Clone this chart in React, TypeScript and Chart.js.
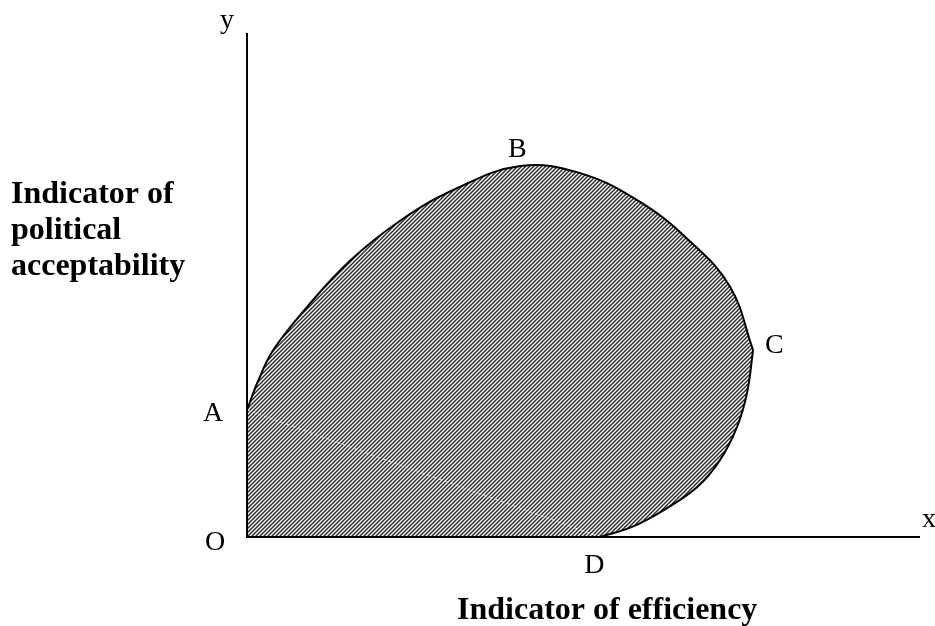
import { useEffect, useRef } from 'react';
import { Chart, registerables } from 'chart.js';

Chart.register(...registerables);

// Upper boundary A -> B -> C (units: 0..100 on each axis)
const upperX = [0, 1.6, 3.9, 8.9, 15.3, 22.7, 30.9, 40.6, 49.5, 58.4, 65.8, 71.8, 75.2];
const upperY = [25.2, 30.8, 37.1, 45.6, 54.8, 62.7, 69.0, 73.6, 72.2, 66.5, 58.7, 49.6, 37.1];

// Lower boundary C -> D
const lowerX = [75.2, 74.3, 72.8, 70.3, 66.9, 62.0, 57.2, 52.5];
const lowerY = [37.1, 28.6, 21.8, 15.3, 9.9, 5.4, 2.0, 0];

// Dashed chord A -> D
const chordX = [0, 52.5];
const chordY = [25.2, 0];

// Named points
const pointNames = ['O', 'A', 'B', 'C', 'D', 'x', 'y'];
const pointX = [0, 0, 40.6, 75.2, 52.5, 100, 0];
const pointY = [0, 25.2, 73.6, 37.1, 0, 0, 100];

const yTitleLines = ['Indicator of', 'political', 'acceptability'];
const xTitle = 'Indicator of efficiency';

function makePattern(): CanvasPattern | string {
  const c = document.createElement('canvas');
  c.width = 4;
  c.height = 4;
  const g = c.getContext('2d');
  if (!g) return '#777';
  g.fillStyle = '#ffffff';
  g.fillRect(0, 0, 4, 4);
  g.strokeStyle = '#2a2a2a';
  g.lineWidth = 1.5;
  g.beginPath();
  g.moveTo(-1, 5);
  g.lineTo(5, -1);
  g.moveTo(-1, 1);
  g.lineTo(1, -1);
  g.moveTo(3, 5);
  g.lineTo(5, 3);
  g.stroke();
  const p = g.createPattern(c, 'repeat');
  return p || '#777';
}

const labelOffsets: Record<string, [number, number, CanvasTextAlign]> = {
  O: [-42, 13, 'left'],
  A: [-44, 11, 'left'],
  B: [-3, -9, 'center'],
  C: [12, 3, 'left'],
  D: [-16, 36, 'left'],
  x: [2, -10, 'left'],
  y: [-27, -5, 'left'],
};

let hatch: CanvasPattern | string = '#777';

const regionFill = {
  id: 'regionFill',
  beforeDatasetsDraw(chart: any) {
    const { ctx, scales, chartArea } = chart;
    const upper = chart.getDatasetMeta(1).dataset;
    const lower = chart.getDatasetMeta(2).dataset;
    if (!upper || !lower) return;
    upper.updateControlPoints(chartArea, 'x');
    lower.updateControlPoints(chartArea, 'x');
    ctx.save();
    ctx.beginPath();
    upper.path(ctx);
    for (const seg of lower.segments) {
      lower.pathSegment(ctx, seg, { move: false });
    }
    ctx.lineTo(scales.x.getPixelForValue(0), scales.y.getPixelForValue(0));
    ctx.closePath();
    ctx.fillStyle = hatch;
    ctx.fill();
    ctx.restore();
  },
};

const annotate = {
  id: 'annotate',
  afterDatasetsDraw(chart: any) {
    const { ctx, scales } = chart;
    const xs = scales.x;
    const ys = scales.y;
    ctx.save();
    // axes
    ctx.strokeStyle = '#000';
    ctx.lineWidth = 2;
    ctx.beginPath();
    ctx.moveTo(xs.getPixelForValue(0), ys.getPixelForValue(100));
    ctx.lineTo(xs.getPixelForValue(0), ys.getPixelForValue(0));
    ctx.lineTo(xs.getPixelForValue(100), ys.getPixelForValue(0));
    ctx.stroke();
    // point labels
    ctx.fillStyle = '#000';
    ctx.textBaseline = 'alphabetic';
    ctx.font = '28px "Liberation Serif", "Times New Roman", serif';
    pointNames.forEach((n, i) => {
      const [dx, dy, align] = labelOffsets[n];
      ctx.textAlign = align;
      ctx.fillText(n, xs.getPixelForValue(pointX[i]) + dx, ys.getPixelForValue(pointY[i]) + dy);
    });
    // titles
    ctx.font = 'bold 32px "Liberation Serif", "Times New Roman", serif';
    ctx.textAlign = 'left';
    const base = [203, 239, 275];
    yTitleLines.forEach((t, i) => ctx.fillText(t, 11, base[i]));
    ctx.fillText(xTitle, 457, 619);
    ctx.restore();
  },
};

const curveStyle = {
  borderColor: '#000',
  borderWidth: 2,
  fill: false,
  tension: 0.4,
  cubicInterpolationMode: 'default' as const,
  pointRadius: 0,
};

export default function App() {
  const ref = useRef<HTMLCanvasElement | null>(null);
  useEffect(() => {
    if (!ref.current) return;
    hatch = makePattern();
    const chart = new Chart(ref.current, {
      type: 'line',
      data: {
        datasets: [
          {
            data: chordX.map((x, i) => ({ x, y: chordY[i] })),
            borderColor: 'rgba(255,255,255,0.85)',
            borderWidth: 1,
            borderDash: [3, 3],
            pointRadius: 0,
            tension: 0,
            fill: false,
            order: 0,
          },
          { ...curveStyle, data: upperX.map((x, i) => ({ x, y: upperY[i] })), order: 1 },
          { ...curveStyle, data: lowerX.map((x, i) => ({ x, y: lowerY[i] })), order: 2 },
        ],
      },
      options: {
        responsive: false,
        animation: false,
        parsing: true,
        layout: { padding: { left: 247, right: 15, top: 33, bottom: 89 } },
        plugins: { legend: { display: false }, tooltip: { enabled: false } },
        scales: {
          x: { type: 'linear', min: 0, max: 100, display: false },
          y: { type: 'linear', min: 0, max: 100, display: false },
        },
      },
      plugins: [regionFill, annotate],
    });
    return () => chart.destroy();
  }, []);
  return (
    <div style={{ position: 'absolute', left: 0, top: 0, width: 935, height: 626, background: '#fff' }}>
      <canvas ref={ref} width={935} height={626} />
    </div>
  );
}
